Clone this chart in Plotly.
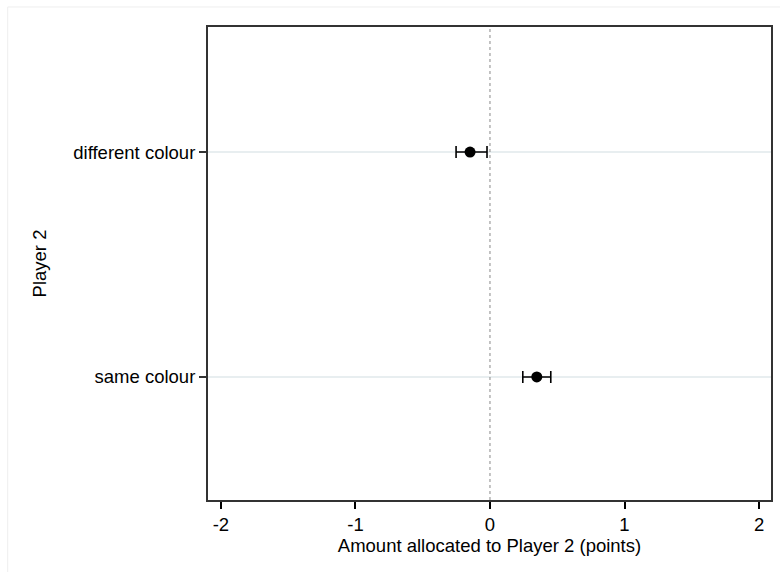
import plotly.graph_objects as go

categories = ["same colour", "different colour"]
means = [0.348, -0.148]
ci_low = [0.244, -0.252]
ci_high = [0.452, -0.022]
x_ticks = [-2, -1, 0, 1, 2]

ypos = list(range(len(categories)))
fig = go.Figure()
fig.add_trace(go.Scatter(
    x=means, y=ypos, mode="markers",
    marker=dict(color="black", size=11),
    error_x=dict(type="data", symmetric=False,
                 array=[h - m for h, m in zip(ci_high, means)],
                 arrayminus=[m - l for m, l in zip(means, ci_low)],
                 color="black", thickness=1.6, width=6),
    showlegend=False,
))
fig.add_vline(x=0, line=dict(color="#888888", width=1, dash="dot"))

font = "Liberation Sans, Arial, Helvetica, sans-serif"
fs = 18.5
fig.update_layout(
    width=780, height=572,
    margin=dict(l=208, r=7, t=27, b=72),
    paper_bgcolor="white", plot_bgcolor="white",
    font=dict(family=font, size=fs, color="black"),
    xaxis=dict(range=[-2.096, 2.089], tickvals=x_ticks, ticktext=[str(v) for v in x_ticks],
               tickfont=dict(size=fs, family=font, color="black"),
               ticks="outside", ticklen=7, tickcolor="black", tickwidth=1.5,
               showgrid=False, zeroline=False, showline=True, linecolor="#333333", linewidth=2,
               mirror=True, title=dict(text="Amount allocated to Player 2 (points)", standoff=1,
                                       font=dict(size=fs, family=font, color="black"))),
    yaxis=dict(range=[-0.547, 1.556], tickvals=ypos, ticktext=categories,
               tickfont=dict(size=fs, family=font, color="black"),
               ticks="outside", ticklen=7, tickcolor="#333333", tickwidth=1.5,
               showgrid=True, gridcolor="#e8eef0", gridwidth=1.5, zeroline=False,
               showline=True, linecolor="#333333", linewidth=2, mirror=True,
               title=dict(text="Player 2", standoff=22,
                          font=dict(size=fs, family=font, color="black"))),
)
fig.add_shape(type="rect", xref="paper", yref="paper", x0=-0.3558, x1=1.03, y0=-0.2, y1=1.0423,
              line=dict(color="#eeeeee", width=1), layer="below")
fig.write_html("out.html")
